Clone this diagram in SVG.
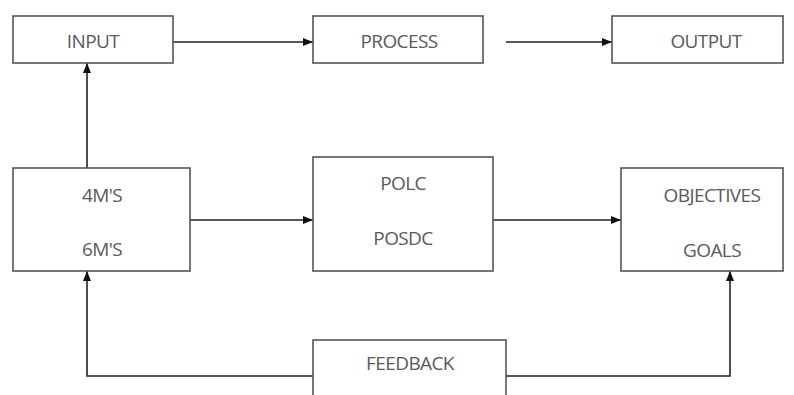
<svg xmlns="http://www.w3.org/2000/svg" width="794" height="395" viewBox="0 0 794 395">
<defs>
<marker id="ah" markerWidth="10" markerHeight="8" refX="10" refY="4" orient="auto" markerUnits="userSpaceOnUse">
<path d="M0,0 L10,4 L0,8 Z" fill="#111"/>
</marker>
<style>
.box{fill:#fff;stroke:#555;stroke-width:1.6}
.t{font-family:"Open Sans","DejaVu Sans",sans-serif;font-size:19px;fill:#5a5a5a;text-anchor:middle;letter-spacing:-0.6px}
.c{fill:none;stroke:#222;stroke-width:1.6}
</style>
</defs>
<rect width="794" height="395" fill="#fff"/>
<g id="connectors">
<path class="c" d="M173,42 H313" marker-end="url(#ah)"/>
<path class="c" d="M506,42 H612" marker-end="url(#ah)"/>
<path class="c" d="M87,168 V63" marker-end="url(#ah)"/>
<path class="c" d="M190,220 H313" marker-end="url(#ah)"/>
<path class="c" d="M493,220 H621" marker-end="url(#ah)"/>
<path class="c" d="M313,376 H87 V271" marker-end="url(#ah)"/>
<path class="c" d="M506,376 H730 V271" marker-end="url(#ah)"/>
</g>
<g id="input"><rect class="box" x="13" y="16" width="160" height="47"/><text class="t" x="93" y="48">INPUT</text></g>
<g id="process"><rect class="box" x="313" y="16" width="170" height="47"/><text class="t" x="399" y="48">PROCESS</text></g>
<g id="output"><rect class="box" x="612" y="16" width="171" height="47"/><text class="t" x="706" y="48">OUTPUT</text></g>
<g id="ms"><rect class="box" x="13" y="168" width="177" height="103"/><text class="t" x="102" y="202">4M'S</text><text class="t" x="102" y="256">6M'S</text></g>
<g id="polc"><rect class="box" x="313" y="157" width="180" height="114"/><text class="t" x="403" y="190">POLC</text><text class="t" x="403" y="245">POSDC</text></g>
<g id="objectives"><rect class="box" x="621" y="168" width="162" height="103"/><text class="t" x="712" y="202">OBJECTIVES</text><text class="t" x="712" y="257">GOALS</text></g>
<g id="feedback"><rect class="box" x="313" y="340" width="193" height="60"/><text class="t" x="410" y="370">FEEDBACK</text></g>
</svg>
